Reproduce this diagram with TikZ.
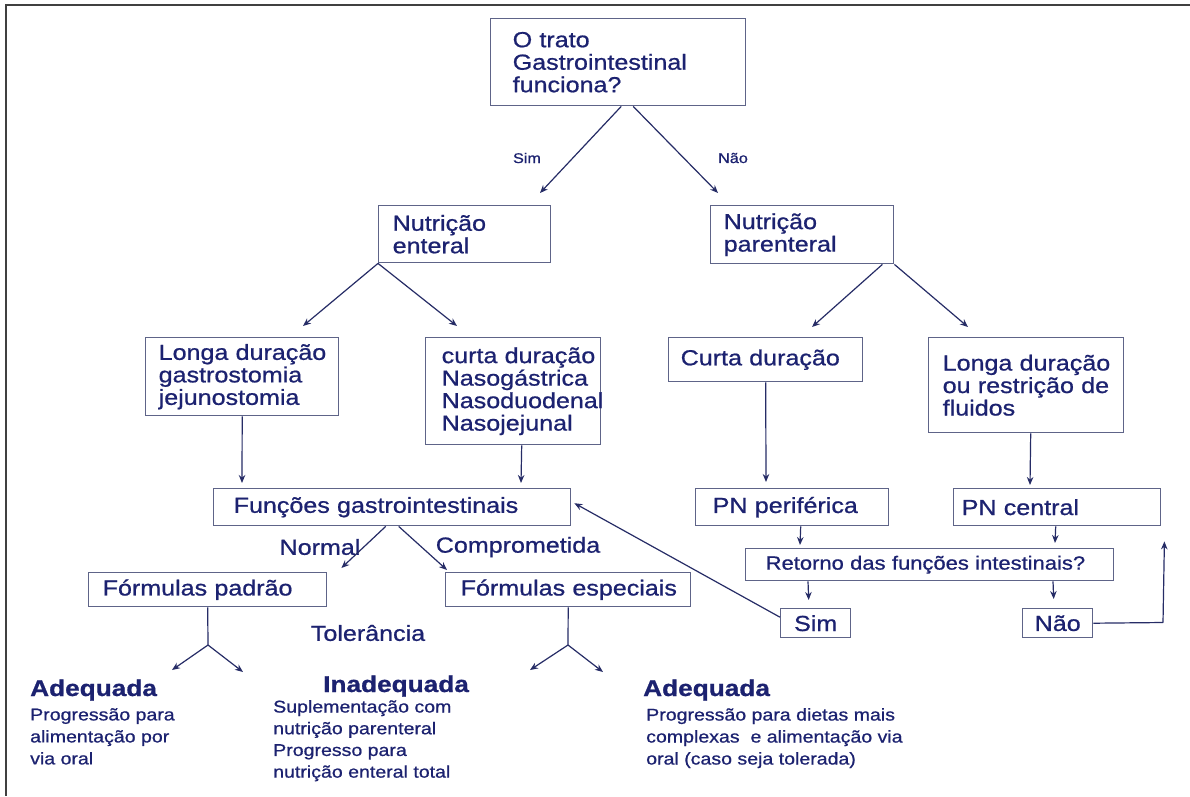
\documentclass[tikz,border=0pt]{standalone}
\usepackage{fontspec}
\setmainfont{Liberation Sans}[FakeStretch=1.15, FakeBold=0.8]
\usetikzlibrary{arrows.meta,calc}
\definecolor{txt}{HTML}{1C2270}
\definecolor{boxc}{HTML}{5E6488}
\definecolor{arrc}{HTML}{262C66}
\definecolor{framec}{HTML}{404040}
\tikzset{
  box/.style={draw=boxc, line width=1.4pt, rectangle, inner ysep=0pt, align=left,
    anchor=north west, text=txt, font=\fontsize{21.8}{22.5}\selectfont,
    execute at begin node={\hyphenpenalty=10000\exhyphenpenalty=10000\hbadness=10000\hfuzz=50pt}},
  cbox/.style={box, align=center},
  arr/.style={draw=arrc, line width=1.2pt, -{Stealth[length=8pt,width=6.5pt]}},
  ln/.style={draw=arrc, line width=1.2pt},
  lbl/.style={text=txt, inner sep=0pt, font=\fontsize{21.8}{22.5}\selectfont},
  slbl/.style={text=txt, inner sep=0pt, font=\fontsize{14.1}{15}\selectfont},
  bold/.style={text=txt, inner sep=0pt, anchor=base west, font=\bfseries\fontsize{22.8}{25}\selectfont},
  body/.style={text=txt, inner sep=0pt, anchor=north west, align=left, font=\fontsize{17}{22}\selectfont}
}
\begin{document}
\begin{tikzpicture}[x=1pt,y=-1pt]
\useasboundingbox (0,0) rectangle (1190,796);
\fill[white] (0,0) rectangle (1190,796);
\draw[framec, line width=1.5pt] (1190,5) -- (6,5) -- (6,796);

% boxes
\node[box, minimum height=87pt, text width=211pt, inner xsep=22pt] (top) at (490,18) {O~trato\\Gastrointestinal\\funciona?};
\node[box, minimum height=57pt, text width=144pt, inner xsep=14pt] (ent) at (378,205) {Nutrição\\enteral};
\node[box, minimum height=58pt, text width=157pt, inner xsep=13pt] (par) at (710,205) {Nutrição\\parenteral};
\node[box, minimum height=78pt, text width=167pt, inner xsep=13pt] (longa) at (145,337) {Longa~duração\\gastrostomia\\jejunostomia};
\node[box, minimum height=107pt, text width=143pt, inner xsep=16pt] (curta) at (425,337) {curta~duração\\Nasogástrica\\Nasoduodenal\\Nasojejunal};
\node[box, minimum height=44pt, text width=170pt, inner xsep=12pt] (pnc) at (668,337) {Curta~duração};
\node[box, minimum height=95pt, text width=167pt, inner xsep=14pt] (pnl) at (928,337) {Longa~duração\\ou~restrição~de\\fluidos};
\node[box, minimum height=37pt, text width=317pt, inner xsep=20pt] (fun) at (213,488) {Funções~gastrointestinais};
\node[box, minimum height=37pt, text width=159pt, inner xsep=17pt] (perif) at (695,488) {PN~periférica};
\node[box, minimum height=37pt, text width=191pt, inner xsep=8pt] (cent) at (953,488) {PN~central};
\node[box, minimum height=32pt, text width=328pt, inner xsep=20pt, font=\fontsize{19.1}{20}\selectfont] (ret) at (745,548) {Retorno~das~funções~intestinais?};
\node[cbox, minimum height=29pt, text width=54pt, inner xsep=8pt] (sim) at (780,608) {Sim};
\node[cbox, minimum height=29pt, text width=54pt, inner xsep=8pt] (nao) at (1022,608) {Não};
\node[box, minimum height=34pt, text width=210pt, inner xsep=14pt] (fp) at (88,572) {Fórmulas~padrão};
\node[box, minimum height=34pt, text width=215pt, inner xsep=15pt] (fe) at (445,572) {Fórmulas~especiais};

% labels
\node[slbl] (lsim) at (527,158) {Sim};
\node[slbl] (lnao) at (733,158) {Não};
\node[lbl] (lnormal) at (320,547) {Normal};
\node[lbl] (lcomp) at (518,547) {Comprometida};
\node[lbl] (ltol) at (368,633) {Tolerância};

% bottom texts
\node[bold] (ad1) at (30,696) {Adequada};
\node[body] (ad1t) at (30,708) {Progressão para\\alimentação por\\via oral};
\node[bold] (inad) at (323,692) {Inadequada};
\node[body, font=\fontsize{17}{21.7}\selectfont] (inadt) at (273,700) {Suplementação com\\nutrição parenteral\\Progresso para\\nutrição enteral total};
\node[bold] (ad2) at (643,696) {Adequada};
\node[body] (ad2t) at (646,708) {Progressão para dietas mais\\complexas~ e alimentação via\\oral (caso seja tolerada)};

% connector end points
\coordinate (e1) at (540,193);
\coordinate (e2) at (718,193);
\coordinate (e3) at (303,326);
\coordinate (e4) at (457,326);
\coordinate (e5) at (812,327);
\coordinate (e6) at (968,327);
\coordinate (fpj) at (208,645);
\coordinate (fej) at (568,645);
\coordinate (ncorner) at (1163,622.5);

% connectors
\draw[arr] ($(top.south)+(3,0)$) -- (e1);
\draw[arr] ($(top.south)+(15,0)$) -- (e2);
\draw[arr] (ent.south west) -- (e3);
\draw[arr] (ent.south west) -- (e4);
\draw[arr] ($(par.south east)+(-12,0)$) -- (e5);
\draw[arr] (par.south east) -- (e6);
\draw[arr] (longa.south) -- ($(fun.north west)+(29,-5)$);
\draw[arr] ($(curta.south)+(8.5,0)$) -- ($(fun.north west)+(308,-5)$);
\draw[arr] (pnc.south) -- ($(perif.north west)+(71,-6)$);
\draw[arr] ($(pnl.south)+(4.5,0)$) -- ($(cent.north west)+(77,-3)$);
\draw[arr] ($(perif.south)+(8.5,0)$) -- ($(ret.north west)+(55,-3)$);
\draw[arr] ($(cent.south)+(-1.5,0)$) -- ($(ret.north west)+(310,-5)$);
\draw[arr] ($(ret.south west)+(63,0)$) -- ($(sim.north)+(-7,-8)$);
\draw[arr] ($(ret.south west)+(308,0)$) -- ($(nao.north)+(-4,-9)$);
\draw[ln] (nao.east) -- (ncorner);
\draw[arr] (ncorner) -- ($(cent.south east)+(3,15)$);
\draw[arr] ($(sim.west)+(0,-6)$) -- ($(fun.east)+(3,-4)$);
\draw[arr] ($(fun.south)+(-6.5,0)$) -- ($(fp.north east)+(14,-4)$);
\draw[arr] ($(fun.south)+(6.5,0)$) -- ($(fe.north west)+(2,-2)$);
\draw[ln] (fp.south) -- (fpj);
\draw[arr] (fpj) -- ++(-36,25);
\draw[arr] (fpj) -- ++(35,27);
\draw[ln] (fe.south) -- (fej);
\draw[arr] (fej) -- ++(-38,25);
\draw[arr] (fej) -- ++(35,27);
\end{tikzpicture}
\end{document}
